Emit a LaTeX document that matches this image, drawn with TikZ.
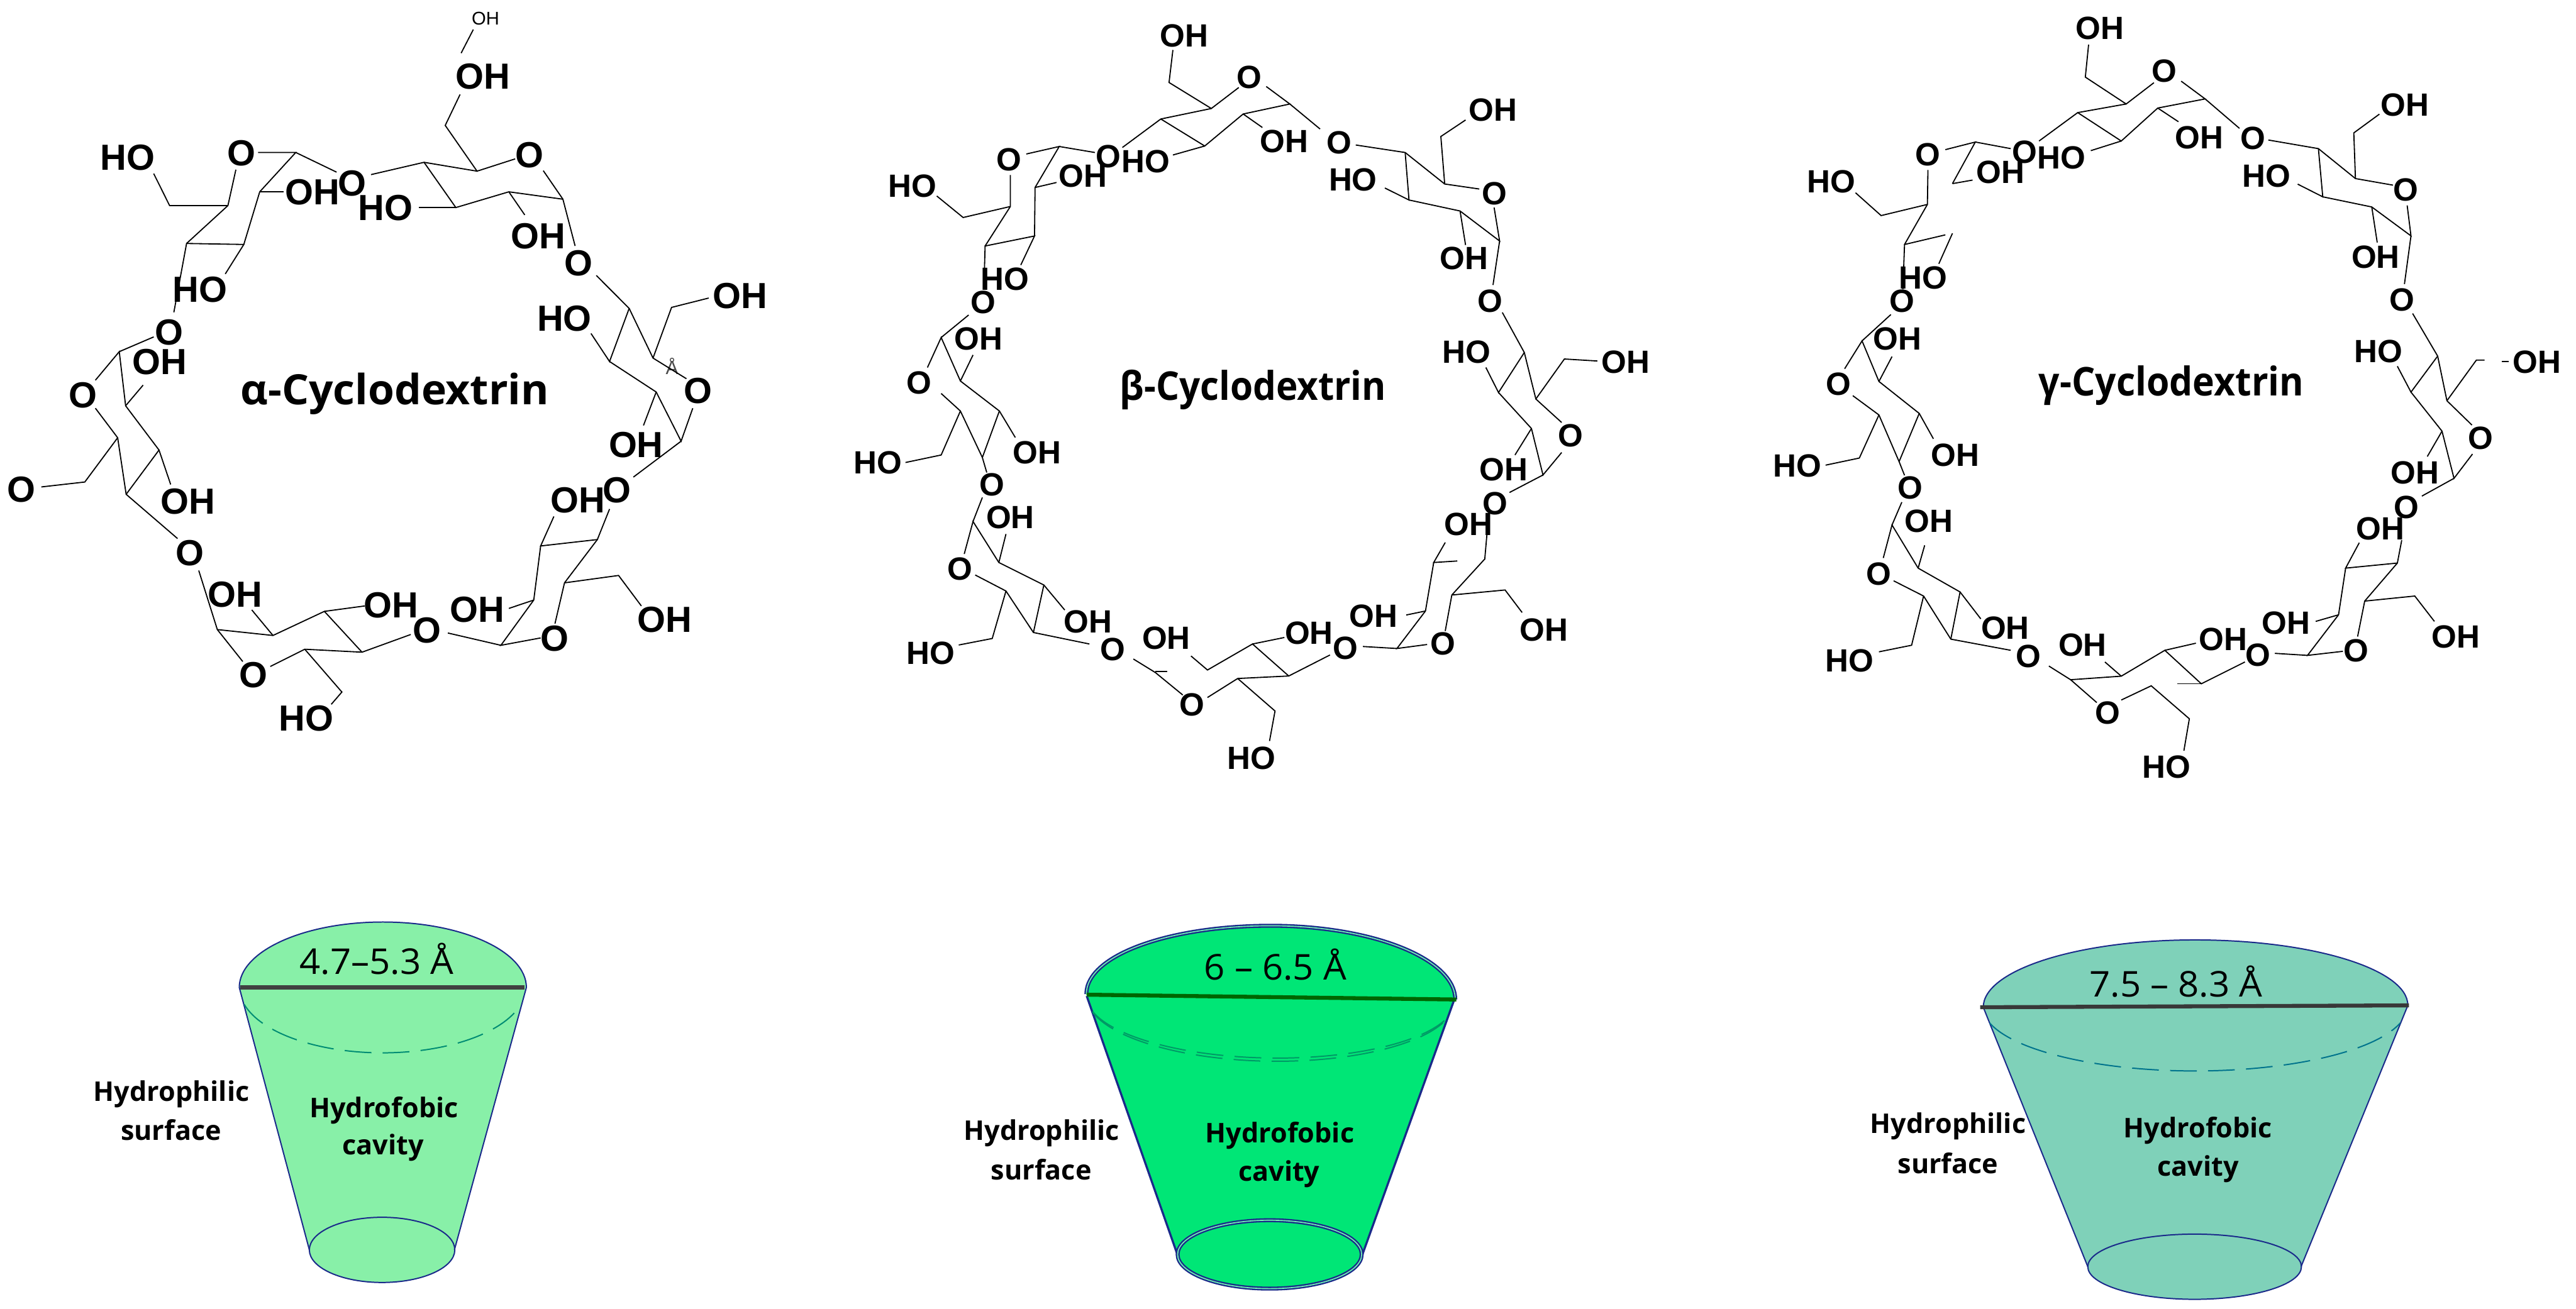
\documentclass[tikz,border=0pt]{standalone}
\usepackage{fontspec}
\usepackage{graphicx}
\newfontfamily\labfont{Liberation Sans}
\newfontfamily\osfont{Open Sans}
\definecolor{navyline}{HTML}{1A2A8A}
\definecolor{cupa}{HTML}{88F0A8}
\definecolor{cupb}{HTML}{00E676}
\definecolor{cupc}{HTML}{7FD1B9}
\newcommand{\ttl}[3]{\scalebox{#1}[1]{\fontsize{#2}{24}\osfont\bfseries #3}}
\newcommand{\cuptxt}[1]{\fontsize{13}{16}\osfont\bfseries #1}
\newcommand{\dimtxt}[1]{\scalebox{1.03}[1]{\fontsize{17}{20}\osfont #1}}
\tikzset{
  bond/.style={draw=black,line width=.55pt,line join=miter},
  labA/.style={inner sep=0pt,font=\fontsize{17.4}{20}\labfont\bfseries},
  labB/.style={inner sep=0pt,font=\fontsize{15.4}{18}\labfont\bfseries},
  plain/.style={inner sep=0pt},
  coneline/.style={draw=navyline,line width=.6pt},
  dashteal/.style={line width=.6pt,dash pattern=on 12.8pt off 5.4pt}
}
\begin{document}
\begin{tikzpicture}
\useasboundingbox (0,0) rectangle (43.38,-22.05);
\fill[white] (0,0) rectangle (43.38,-22.05);

% ---------- alpha ----------
\begin{scope}[x=0.00893cm,y=-0.00829cm]
\foreach \u/\v/\t [count=\i] in {
911/155/OH,999/315/O,455/311/O,241/321/HO,590/391/OH,664/373/O,727/422/HO,1016/480/OH,
1092/535/O,1396/602/OH,1065/647/HO,1317/795/O,377/589/HO,319/676/O,301/736/OH,157/803/O,
1200/905/OH,1164/997/O,1090/1017/OH,40/995/O,355/1019/OH,358/1125/O,444/1209/OH,738/1231/OH,
805/1282/O,900/1239/OH,1254/1260/OH,1047/1298/O,478/1372/O,578/1460/HO}
  \node[labA] (a\i) at (\u,\v) {\t};
\node[plain,font=\fontsize{8.8}{10}\labfont] (asmall) at (916,37) {OH};
\node[plain,font=\fontsize{9}{10}\labfont,text=black!70] (aring) at (1268,745) {Å};
\node[plain] (atitle) at (745,800) {\ttl{1.02}{20}{α-Cyclodextrin}};
\foreach \p in {
{(870,108)--(893,60)},
{(868,192)--(840,255)--(900,348)--(972,323)},
{(1025,347)--(1062,405)--(1085,500)},
{(900,348)--(800,330)--(700,355)},
{(800,330)--(860,422)--(960,390)--(1062,405)},
{(860,422)--(790,422)},
{(960,390)--(990,437)},
{(1125,560)--(1187,627)--(1232,728)--(1295,770)},
{(1232,728)--(1267,625)--(1337,606)},
{(1187,627)--(1150,735)--(1115,678)},
{(1150,735)--(1238,797)--(1285,897)--(1307,830)},
{(1238,797)--(1214,865)},
{(1285,897)--(1195,970)},
{(1150,1035)--(1127,1097)--(1020,1110)--(1045,1050)},
{(1127,1097)--(1065,1185)--(1047,1268)},
{(1020,1110)--(1007,1220)--(945,1312)--(1020,1297)},
{(1007,1220)--(960,1237)},
{(1065,1185)--(1167,1170)--(1210,1232)},
{(945,1312)--(845,1287)},
{(775,1290)--(683,1326)--(575,1320)--(510,1355)},
{(683,1326)--(612,1243)--(515,1292)--(410,1280)--(375,1160)},
{(612,1243)--(688,1232)},
{(515,1292)--(475,1240)},
{(410,1280)--(458,1345)},
{(575,1320)--(645,1407)--(625,1432)},
{(335,1095)--(238,1005)--(222,890)--(180,830)},
{(238,1005)--(300,915)--(237,825)--(225,715)--(180,773)},
{(225,715)--(290,685)},
{(237,825)--(270,783)},
{(300,915)--(322,985)},
{(222,890)--(160,980)--(78,990)},
{(328,635)--(352,495)--(460,497)--(425,557)},
{(352,495)--(430,418)--(445,345)},
{(430,418)--(320,418)--(290,353)},
{(460,497)--(490,390)--(558,310)--(487,310)},
{(490,390)--(535,390)},
{(558,310)--(635,350)}}
  \draw[bond] \p;
\end{scope}

% ---------- beta ----------
\begin{scope}[shift={(14cm,0cm)},x=0.00925cm,y=-0.00842cm]
\foreach \u/\v/\t [count=\i] in {
643/72/OH,761/155/O,925/285/O,1205/220/OH,1208/387/O,950/359/HO,825/283/OH,573/323/HO,505/313/O,
458/352/OH,324/319/O,148/372/HO,316/558/HO,277/605/O,268/678/OH,160/766/O,1152/517/OH,1200/602/O,
1157/704/HO,1447/724/OH,1346/871/O,1224/939/OH,1209/1007/O,1160/1048/OH,85/925/HO,375/905/OH,
293/970/O,326/1035/OH,234/1138/O,467/1243/OH,181/1306/HO,512/1299/O,610/1276/OH,870/1266/OH,
936/1296/O,987/1232/OH,1114/1287/O,1298/1260/OH,657/1410/O,765/1516/HO}
  \node[labB] (b\i) at (\u,\v) {\t};
\node[plain] (btitle) at (768,780) {\ttl{0.925}{19}{β-Cyclodextrin}};
\foreach \p in {
{(622,100)--(615,165)--(692,217)--(742,175)},
{(692,217)--(600,238)--(530,295)},
{(600,238)--(680,292)--(750,228)--(835,208)--(792,173)},
{(835,208)--(890,258)},
{(680,292)--(622,310)},
{(750,228)--(785,255)},
{(955,290)--(1045,305)--(1117,368)--(1180,378)},
{(1117,368)--(1110,273)--(1155,240)},
{(1045,305)--(1052,400)--(1008,376)},
{(1052,400)--(1145,422)--(1217,482)--(1207,415)},
{(1145,422)--(1155,490)},
{(1217,482)--(1205,570)},
{(1222,625)--(1262,705)--(1283,798)--(1330,845)},
{(1283,798)--(1335,718)--(1395,722)},
{(1262,705)--(1215,785)--(1192,735)},
{(1215,785)--(1275,857)--(1296,950)--(1330,905)},
{(1275,857)--(1245,910)},
{(1296,950)--(1235,985)},
{(1197,1030)--(1190,1118)--(1130,1190)--(1118,1262)},
{(1140,1122)--(1097,1125)--(1118,1085)},
{(1097,1125)--(1082,1222)--(1030,1297)--(1085,1289)},
{(1082,1222)--(1047,1230)},
{(1130,1190)--(1227,1180)--(1258,1225)},
{(1030,1297)--(968,1293)},
{(908,1310)--(833,1352)--(740,1357)--(685,1395)},
{(833,1352)--(767,1288)--(685,1340)--(655,1312)},
{(767,1288)--(825,1275)},
{(740,1357)--(808,1422)--(798,1482)},
{(550,1318)--(590,1345)--(640,1390)},
{(590,1343)--(612,1343)},
{(470,1288)--(368,1265)--(318,1182)--(262,1150)},
{(368,1265)--(387,1170)--(305,1125)--(258,1043)--(242,1108)},
{(258,1043)--(275,995)},
{(305,1125)--(318,1068)},
{(387,1170)--(425,1220)},
{(318,1182)--(293,1277)--(232,1290)},
{(283,945)--(275,915)--(235,822)--(200,787)},
{(275,915)--(306,822)--(235,762)--(200,675)--(175,735)},
{(200,675)--(250,630)},
{(235,762)--(258,710)},
{(306,822)--(335,875)},
{(235,822)--(200,910)--(135,925)},
{(278,570)--(280,492)--(370,472)--(345,530)},
{(280,492)--(326,413)--(326,350)},
{(326,413)--(240,435)--(192,392)},
{(370,472)--(371,375)--(415,293)--(355,308)},
{(371,375)--(410,365)},
{(415,293)--(480,305)}}
  \draw[bond] \p;
\end{scope}

% ---------- gamma ----------
\begin{scope}[shift={(29cm,0cm)},x=0.00917cm,y=-0.008546cm]
\foreach \u/\v/\t [count=\i] in {
694/56/OH,812/140/O,975/272/O,1254/207/OH,1256/374/O,1000/347/HO,876/271/OH,623/311/HO,556/300/O,
511/340/OH,378/305/O,200/358/HO,369/548/HO,331/594/O,322/668/OH,214/757/O,1200/507/OH,1248/591/O,
1205/693/HO,1496/714/OH,1393/864/O,1272/932/OH,1257/1000/O,1209/1042/OH,138/918/HO,428/897/OH,
346/962/O,380/1028/OH,288/1132/O,520/1238/OH,234/1302/HO,563/1294/O,662/1271/OH,920/1261/OH,
984/1292/O,1036/1228/OH,1164/1283/O,1347/1255/OH,708/1405/O,816/1512/HO}
  \node[labB] (c\i) at (\u,\v) {\t};
\node[plain] (ctitle) at (825,760) {\ttl{0.933}{19}{γ-Cyclodextrin}};
\foreach \p in {
{(673,88)--(667,152)--(742,205)--(793,163)},
{(742,205)--(653,222)--(582,278)},
{(653,222)--(733,278)--(800,213)--(887,195)--(843,160)},
{(887,195)--(950,253)},
{(733,278)--(677,297)},
{(800,213)--(838,240)},
{(1003,276)--(1095,293)--(1163,352)--(1232,365)},
{(1163,352)--(1160,262)--(1207,225)},
{(1095,293)--(1103,388)--(1057,363)},
{(1103,388)--(1193,408)--(1265,465)--(1258,405)},
{(1193,408)--(1203,478)},
{(1265,465)--(1253,560)},
{(1268,618)--(1314,702)--(1331,790)--(1377,838)},
{(1331,790)--(1385,710)--(1400,710)},
{(1432,713)--(1445,713)},
{(1314,702)--(1265,773)--(1240,722)},
{(1265,773)--(1322,850)--(1344,943)--(1378,895)},
{(1322,850)--(1295,900)},
{(1344,943)--(1285,978)},
{(1248,1065)--(1240,1110)--(1180,1185)--(1167,1255)},
{(1240,1110)--(1145,1120)--(1170,1070)},
{(1145,1120)--(1132,1212)--(1075,1292)--(1140,1284)},
{(1132,1212)--(1090,1225)},
{(1180,1185)--(1272,1175)--(1308,1225)},
{(1075,1292)--(1015,1288)},
{(960,1305)--(880,1348)--(813,1282)--(733,1333)--(640,1340)--(600,1313)},
{(880,1348)--(836,1348)},
{(813,1282)--(870,1268)},
{(733,1333)--(703,1305)},
{(640,1340)--(688,1385)},
{(733,1380)--(788,1352)--(858,1417)--(848,1480)},
{(530,1282)--(420,1260)--(370,1175)--(315,1145)},
{(420,1260)--(437,1167)--(360,1120)--(312,1035)--(296,1100)},
{(312,1035)--(330,990)},
{(360,1120)--(372,1075)},
{(437,1167)--(475,1220)},
{(370,1175)--(348,1272)--(288,1285)},
{(335,937)--(325,910)--(288,818)--(240,780)},
{(325,910)--(362,815)--(288,752)--(257,672)--(225,727)},
{(257,672)--(310,620)},
{(288,752)--(312,703)},
{(362,815)--(388,865)},
{(288,818)--(252,903)--(190,917)},
{(332,570)--(335,482)--(410,463)},
{(423,460)--(398,520)},
{(335,482)--(377,403)--(378,335)},
{(377,403)--(292,425)--(245,380)},
{(423,362)--(465,280)--(410,295)},
{(423,362)--(460,355)},
{(465,280)--(530,293)}}
  \draw[bond] \p;
\end{scope}

% ---------- alpha cup ----------
\begin{scope}[shift={(1cm,-15cm)},x=0.00638cm,y=-0.004496cm]
\fill[cupa] (475,363) arc[start angle=180,end angle=360,x radius=379,y radius=245]
  -- (1043,1345) arc[start angle=0,end angle=180,x radius=191,y radius=122] -- cycle;
\draw[coneline] (475,363) arc[start angle=180,end angle=360,x radius=379,y radius=245]
  -- (1043,1345) (475,363) -- (660,1345);
\draw[coneline] (852,1345) ellipse[x radius=192,y radius=122];
\draw[dashteal,draw=teal!90!green] (488,426) arc[start angle=165,end angle=15,x radius=378,y radius=245];
\draw[line width=1.9pt,draw=black!75] (478,363) -- (1228,363);
\node[plain] (adim) at (838,255) {\dimtxt{4.7–5.3 Å}};
\node[plain] (aphil) at (296,762) {\cuptxt{Hydrophilic}};
\node[plain] (asurf) at (295,895) {\cuptxt{surface}};
\node[plain] (aphob) at (857,822) {\cuptxt{Hydrofobic}};
\node[plain] (acav) at (855,962) {\cuptxt{cavity}};
\end{scope}

% ---------- beta cup ----------
\begin{scope}[shift={(15.8cm,-15cm)},x=0.00638cm,y=-0.004496cm]
\fill[cupb] (391,388) .. controls (391,242) and (609,132) .. (878,132) .. controls (1147,132) and (1365,256) .. (1365,408)
  -- (1118,1365) arc[start angle=0,end angle=180,x radius=243,y radius=128] -- cycle;
\draw[draw=navyline,line width=.7pt,double=cupb!55!white,double distance=.5pt]
  (391,388) .. controls (391,242) and (609,132) .. (878,132) .. controls (1147,132) and (1365,256) .. (1365,408);
\draw[draw=navyline,line width=1pt] (392,395) -- (632,1365) (1362,410) -- (1118,1370);
\draw[draw=navyline,line width=.7pt,double=cupb!55!white,double distance=.5pt] (875,1362) ellipse[x radius=243,y radius=128];
\begin{scope}[rotate around={-0.75:(878,398)}]
\draw[dashteal,draw=teal!80!green] (408,461) arc[start angle=165,end angle=15,x radius=487,y radius=224];
\draw[dashteal,draw=teal!80!green] (408,464) arc[start angle=165,end angle=15,x radius=487,y radius=236];
\end{scope}
\draw[line width=1.9pt,draw=green!40!black] (392,390) -- (1368,408);
\node[plain] (bdim) at (890,277) {\dimtxt{6 – 6.5 Å}};
\node[plain] (bphil) at (273,907) {\cuptxt{Hydrophilic}};
\node[plain] (bsurf) at (272,1045) {\cuptxt{surface}};
\node[plain] (bphob) at (902,917) {\cuptxt{Hydrofobic}};
\node[plain] (bcav) at (900,1060) {\cuptxt{cavity}};
\end{scope}

% ---------- gamma cup ----------
\begin{scope}[shift={(31cm,-15cm)},x=0.00638cm,y=-0.004496cm]
\fill[cupc] (376,437) .. controls (376,298) and (625,185) .. (935,185) .. controls (1245,185) and (1497,295) .. (1497,430)
  -- (1215,1408) arc[start angle=0,end angle=180,x radius=282,y radius=122] -- cycle;
\draw[coneline] (376,437) .. controls (376,298) and (625,185) .. (935,185) .. controls (1245,185) and (1497,295) .. (1497,430)
  -- (1215,1408) (376,437) -- (652,1408);
\draw[coneline] (934,1408) ellipse[x radius=282,y radius=122];
\draw[dashteal,draw=teal!90!blue] (393,496) arc[start angle=165,end angle=15,x radius=561,y radius=242];
\draw[line width=1.9pt,draw=black!78] (368,437) -- (1500,430);
\node[plain] (cdim) at (885,340) {\dimtxt{7.5 – 8.3 Å}};
\node[plain] (cphil) at (283,882) {\cuptxt{Hydrophilic}};
\node[plain] (csurf) at (283,1022) {\cuptxt{surface}};
\node[plain] (cphob) at (943,899) {\cuptxt{Hydrofobic}};
\node[plain] (ccav) at (943,1042) {\cuptxt{cavity}};
\end{scope}
\end{tikzpicture}
\end{document}
